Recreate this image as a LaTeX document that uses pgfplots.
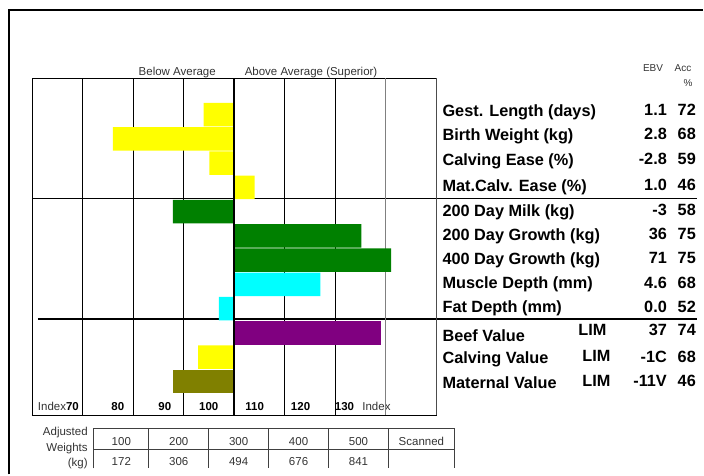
\documentclass[border=0pt]{standalone}
\usepackage{pgfplots}
\pgfplotsset{compat=1.18}
\usepackage{fontspec}
\setmainfont{Liberation Sans}
\definecolor{barYellow}{HTML}{FFFF00}
\definecolor{barGreen}{HTML}{008000}
\definecolor{barCyan}{HTML}{00FFFF}
\definecolor{barPurple}{HTML}{800080}
\definecolor{barOlive}{HTML}{808000}
\definecolor{txtGray}{HTML}{333333}
\newcommand{\bigf}{\fontsize{16.3}{16}\selectfont\bfseries}
\newcommand{\smlf}{\fontsize{11.5}{12}\selectfont}
\newcommand{\tinyf}{\fontsize{10}{10}\selectfont}
\begin{document}
\begin{tikzpicture}
\begin{axis}[name=canvas, at={(0,0)}, anchor=south west,
  width=704pt, height=475pt, scale only axis,
  xmin=0, xmax=704, ymin=0, ymax=475, y dir=reverse,
  hide axis, clip=false]
  \addplot[draw=none, forget plot] coordinates {(0,0) (704,475)};
  % outer frame
  \addplot[black, line width=2pt] coordinates {(9,475) (9,10) (704,10)};
  % separators
  \addplot[black, line width=0.8pt] coordinates {(32,199) (698,199)};
  \addplot[black, line width=2.6pt] coordinates {(38,319.5) (698,319.5)};
  \coordinate (chartSW) at (axis cs:32,416);
  % top labels
  \node[font=\smlf, text=txtGray] at (axis cs:177.5,73) {Below Average};
  \node[font=\smlf, text=txtGray] at (axis cs:311.5,73) {Above Average (Superior)};
  % index labels
  \node[anchor=base east] at (axis cs:82.5,411.5) {\smlf\textcolor{txtGray}{Index}\bfseries 70};
  \node[anchor=base, font=\smlf\bfseries] at (axis cs:118,411.5) {80};
  \node[anchor=base, font=\smlf\bfseries] at (axis cs:165,411.5) {90};
  \node[anchor=base, font=\smlf\bfseries] at (axis cs:209,411.5) {100};
  \node[anchor=base, font=\smlf\bfseries] at (axis cs:255,411.5) {110};
  \node[anchor=base, font=\smlf\bfseries] at (axis cs:301,411.5) {120};
  \node[anchor=base, font=\smlf\bfseries] at (axis cs:345,411.5) {130};
  \node[anchor=base, font=\smlf, text=txtGray] at (axis cs:377,411.5) {Index};
  % header
  \node[font=\tinyf, text=txtGray] at (axis cs:654,68) {EBV};
  \node[font=\tinyf, text=txtGray] at (axis cs:684,68) {Acc};
  \node[font=\tinyf, text=txtGray] at (axis cs:689,83) {\%};
  % trait labels
  \begin{scope}[every node/.style={anchor=base west, font=\bigf, inner sep=0pt}]
  \node at (axis cs:443,116.7) {Gest. Length (days)};
  \node at (axis cs:443,140.5) {Birth Weight (kg)};
  \node at (axis cs:443,165.7) {Calving Ease (\%)};
  \node at (axis cs:443,191.7) {Mat.Calv. Ease (\%)};
  \node at (axis cs:443,216.7) {200 Day Milk (kg)};
  \node at (axis cs:443,240.7) {200 Day Growth (kg)};
  \node at (axis cs:443,264.7) {400 Day Growth (kg)};
  \node at (axis cs:443,288.7) {Muscle Depth (mm)};
  \node at (axis cs:443,312.7) {Fat Depth (mm)};
  \node at (axis cs:443,341.7) {Beef Value};
  \node at (axis cs:443,363.7) {Calving Value};
  \node at (axis cs:443,388.7) {Maternal Value};
  \node at (axis cs:579,335.7) {LIM};
  \node at (axis cs:583,361.7) {LIM};
  \node at (axis cs:583,386.7) {LIM};
  \end{scope}
  \begin{scope}[every node/.style={anchor=base east, font=\bigf, inner sep=0pt}]
  \node at (axis cs:668,115.5) {1.1};   \node at (axis cs:697,115.5) {72};
  \node at (axis cs:668,139.5) {2.8};   \node at (axis cs:697,139.5) {68};
  \node at (axis cs:668,165.2) {-2.8};  \node at (axis cs:697,165.2) {59};
  \node at (axis cs:668,191.2) {1.0};   \node at (axis cs:697,191.2) {46};
  \node at (axis cs:668,216.2) {-3};    \node at (axis cs:697,216.2) {58};
  \node at (axis cs:668,240.2) {36};    \node at (axis cs:697,240.2) {75};
  \node at (axis cs:668,264.2) {71};    \node at (axis cs:697,264.2) {75};
  \node at (axis cs:668,288.7) {4.6};   \node at (axis cs:697,288.7) {68};
  \node at (axis cs:668,312.7) {0.0};   \node at (axis cs:697,312.7) {52};
  \node at (axis cs:668,335.7) {37};    \node at (axis cs:697,335.7) {74};
  \node at (axis cs:668,362.7) {-1C};   \node at (axis cs:697,362.7) {68};
  \node at (axis cs:668,386.7) {-11V};  \node at (axis cs:697,386.7) {46};
  \end{scope}
  % weights table
  \addplot[black!75, line width=0.8pt] coordinates {(94,469) (94,429) (455,429) (455,469)};
  \addplot[black!75, line width=0.8pt] coordinates {(94,450) (455,450)};
  \addplot[black!75, line width=0.8pt] coordinates {(149,429) (149,469)};
  \addplot[black!75, line width=0.8pt] coordinates {(209,429) (209,469)};
  \addplot[black!75, line width=0.8pt] coordinates {(269,429) (269,469)};
  \addplot[black!75, line width=0.8pt] coordinates {(329,429) (329,469)};
  \addplot[black!75, line width=0.8pt] coordinates {(389,429) (389,469)};
  \begin{scope}[every node/.style={font=\smlf, text=txtGray, inner sep=0pt}]
  \node[anchor=base east] at (axis cs:88,436.5) {Adjusted};
  \node[anchor=base east] at (axis cs:88,452) {Weights};
  \node[anchor=base east] at (axis cs:88,467) {(kg)};
  \node at (axis cs:121.5,442) {100};
  \node at (axis cs:179,442) {200};
  \node at (axis cs:239,442) {300};
  \node at (axis cs:299,442) {400};
  \node at (axis cs:359,442) {500};
  \node at (axis cs:422,442) {Scanned};
  \node at (axis cs:121.5,462) {172};
  \node at (axis cs:179,462) {306};
  \node at (axis cs:239,462) {494};
  \node at (axis cs:299,462) {676};
  \node at (axis cs:359,462) {841};
  \end{scope}
\end{axis}
\begin{axis}[at={(chartSW)}, anchor=south west,
  width=404.7pt, height=337.7pt, scale only axis,
  xmin=-40, xmax=40, ymin=-0.5, ymax=13.4, y dir=reverse,
  xtick={-30,-20,-10,10,20}, xticklabels={}, ytick=\empty,
  xmajorgrids, grid style={black, line width=0.7pt},
  major tick length=0pt,
  axis line style={black, line width=0.9pt},
  clip=false]
  \addplot[gray, line width=0.8pt] coordinates {(30,-0.5) (30,13.4)};
  \addplot[xbar, bar width=0.97, bar shift=0pt, fill=barYellow, draw=none] table[x expr=\thisrow{idx}-100, y=row] {
row idx
1 94.0
2 76.0
3 95.1
4 104.1
11 92.9
};
  \addplot[xbar, bar width=0.97, bar shift=0pt, fill=barGreen, draw=none] table[x expr=\thisrow{idx}-100, y=row] {
row idx
5 87.9
6 125.2
7 131.1
};
  \addplot[xbar, bar width=0.97, bar shift=0pt, fill=barCyan, draw=none] table[x expr=\thisrow{idx}-100, y=row] {
row idx
8 117.1
9 97.0
};
  \addplot[xbar, bar width=0.97, bar shift=0pt, fill=barPurple, draw=none] table[x expr=\thisrow{idx}-100, y=row] {
row idx
10 129.1
};
  \addplot[xbar, bar width=0.97, bar shift=0pt, fill=barOlive, draw=none] table[x expr=\thisrow{idx}-100, y=row] {
row idx
12 87.9
};
  \addplot[black, line width=1.2pt] coordinates {(0,-0.5) (0,13.4)};
  \addplot[black!70, line width=1pt] coordinates {(40,-0.5) (40,13.4)};
  \addplot[black, line width=1.6pt] coordinates {(-40,13.4) (40,13.4)};
\end{axis}
\end{tikzpicture}
\end{document}
